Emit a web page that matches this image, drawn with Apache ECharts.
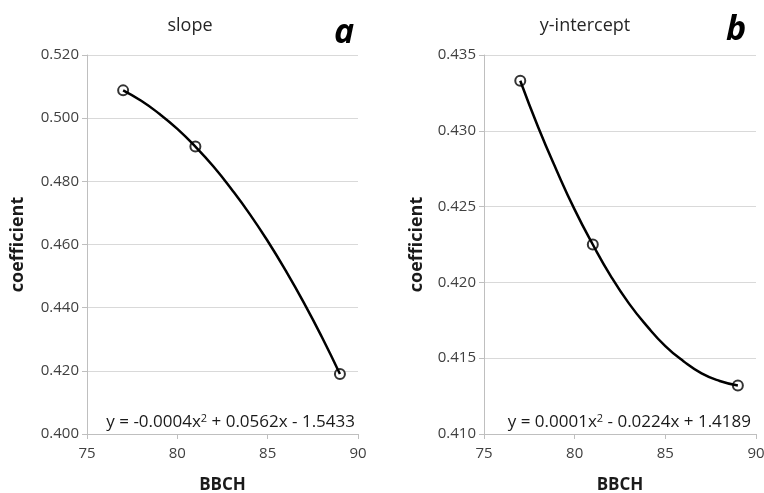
<!DOCTYPE html>
<html>
<head>
<meta charset="utf-8">
<script src="https://cdn.jsdelivr.net/npm/echarts@6/dist/echarts.min.js"></script>
<style>
  html, body { margin: 0; padding: 0; background: #fff; }
  #chart { width: 764px; height: 493px; }
</style>
</head>
<body>
<div id="chart"></div>
<script>
// BBCH stages of the measured points
const bbch = [77, 81, 89]
const slopeVals = [0.5088, 0.4910, 0.4190]
const interceptVals = [0.4333, 0.4225, 0.4132]

// trendline, one value per BBCH unit
const trendX = [77, 78, 79, 80, 81, 82, 83, 84, 85, 86, 87, 88, 89]
const slopeTrend = [0.5088, 0.5055, 0.5014, 0.4966, 0.4910, 0.4847, 0.4775,
  0.4697, 0.4611, 0.4517, 0.4416, 0.4307, 0.4190]
const interceptTrend = [0.4333, 0.4302, 0.4274, 0.4248, 0.4225, 0.4204, 0.4186,
  0.4171, 0.4158, 0.4148, 0.4140, 0.4135, 0.4132]

const font = 'Open Sans'
const grey = '#404040'

const myChart = echarts.init(document.getElementById('chart'))

function xAxisOf(idx) {
  return {
    gridIndex: idx,
    type: 'value',
    min: 75,
    max: 90,
    interval: 5,
    name: 'BBCH',
    nameLocation: 'middle',
    nameGap: 43,
    nameTextStyle: { fontFamily: font, fontWeight: 'bold', fontSize: 17, color: '#1a1a1a' },
    axisLine: { lineStyle: { color: '#bfbfbf' } },
    axisTick: { show: true, length: 5, lineStyle: { color: '#bfbfbf' } },
    axisLabel: { fontFamily: font, fontSize: 15, color: grey, margin: 12 },
    splitLine: { show: false }
  }
}

function yAxisOf(idx, min, max, step, gap) {
  return {
    gridIndex: idx,
    type: 'value',
    min: min,
    max: max,
    interval: step,
    name: 'coefficient',
    nameLocation: 'middle',
    nameGap: gap,
    nameTextStyle: { fontFamily: font, fontWeight: 'bold', fontSize: 18, color: '#1a1a1a' },
    axisLine: { show: true, lineStyle: { color: '#bfbfbf' } },
    axisTick: { show: true, length: 5, lineStyle: { color: '#bfbfbf' } },
    axisLabel: {
      fontFamily: font, fontSize: 15, color: grey, margin: 8,
      formatter: v => v.toFixed(3)
    },
    splitLine: { lineStyle: { color: '#d9d9d9' } }
  }
}

function pairs(xs, ys) {
  return xs.map((x, i) => [x, ys[i]])
}

const titleStyle = { fontFamily: font, fontSize: 18, fontWeight: 'normal', color: '#262626' }
const letterStyle = { fontFamily: font, fontSize: 34, fontWeight: 'bold', fontStyle: 'italic', color: '#000' }
const eqStyle = {
  font: '17px "Open Sans"', fill: '#1a1a1a',
  rich: { sup: { fontSize: 11, fontFamily: font, padding: [0, 0, 8, 0], fill: '#1a1a1a' } }
}

const option = {
  animation: false,
  backgroundColor: '#fff',
  grid: [
    { left: 87, right: 406, top: 55, bottom: 59, outerBoundsMode: 'none' },
    { left: 484, right: 8, top: 55, bottom: 59, outerBoundsMode: 'none' }
  ],
  xAxis: [xAxisOf(0), xAxisOf(1)],
  yAxis: [
    yAxisOf(0, 0.4, 0.52, 0.02, 60),
    yAxisOf(1, 0.41, 0.435, 0.005, 58)
  ],
  title: [
    { text: 'slope', left: 185, top: 12, textAlign: 'center', textStyle: titleStyle },
    { text: 'y-intercept', left: 580, top: 12, textAlign: 'center', textStyle: titleStyle },
    { text: 'a', left: 339, top: 11, textAlign: 'center', textStyle: letterStyle },
    { text: 'b', left: 731, top: 8, textAlign: 'center', textStyle: letterStyle }
  ],
  graphic: [
    {
      type: 'text', right: 409, top: 413,
      style: Object.assign({ text: 'y = -0.0004x{sup|2} + 0.0562x - 1.5433' }, eqStyle)
    },
    {
      type: 'text', right: 13, top: 413,
      style: Object.assign({ text: 'y = 0.0001x{sup|2} - 0.0224x + 1.4189' }, eqStyle)
    }
  ],
  series: [
    {
      type: 'line', xAxisIndex: 0, yAxisIndex: 0,
      data: pairs(trendX, slopeTrend), smooth: true, showSymbol: false,
      lineStyle: { color: '#000', width: 2.5 }, silent: true
    },
    {
      type: 'scatter', xAxisIndex: 0, yAxisIndex: 0,
      data: pairs(bbch, slopeVals), symbol: 'circle', symbolSize: 10,
      itemStyle: { color: '#fff', borderColor: '#000', borderWidth: 2 }
    },
    {
      type: 'line', xAxisIndex: 1, yAxisIndex: 1,
      data: pairs(trendX, interceptTrend), smooth: true, showSymbol: false,
      lineStyle: { color: '#000', width: 2.5 }, silent: true
    },
    {
      type: 'scatter', xAxisIndex: 1, yAxisIndex: 1,
      data: pairs(bbch, interceptVals), symbol: 'circle', symbolSize: 10,
      itemStyle: { color: '#fff', borderColor: '#000', borderWidth: 2 }
    }
  ]
}

option && myChart.setOption(option)
</script>
</body>
</html>
